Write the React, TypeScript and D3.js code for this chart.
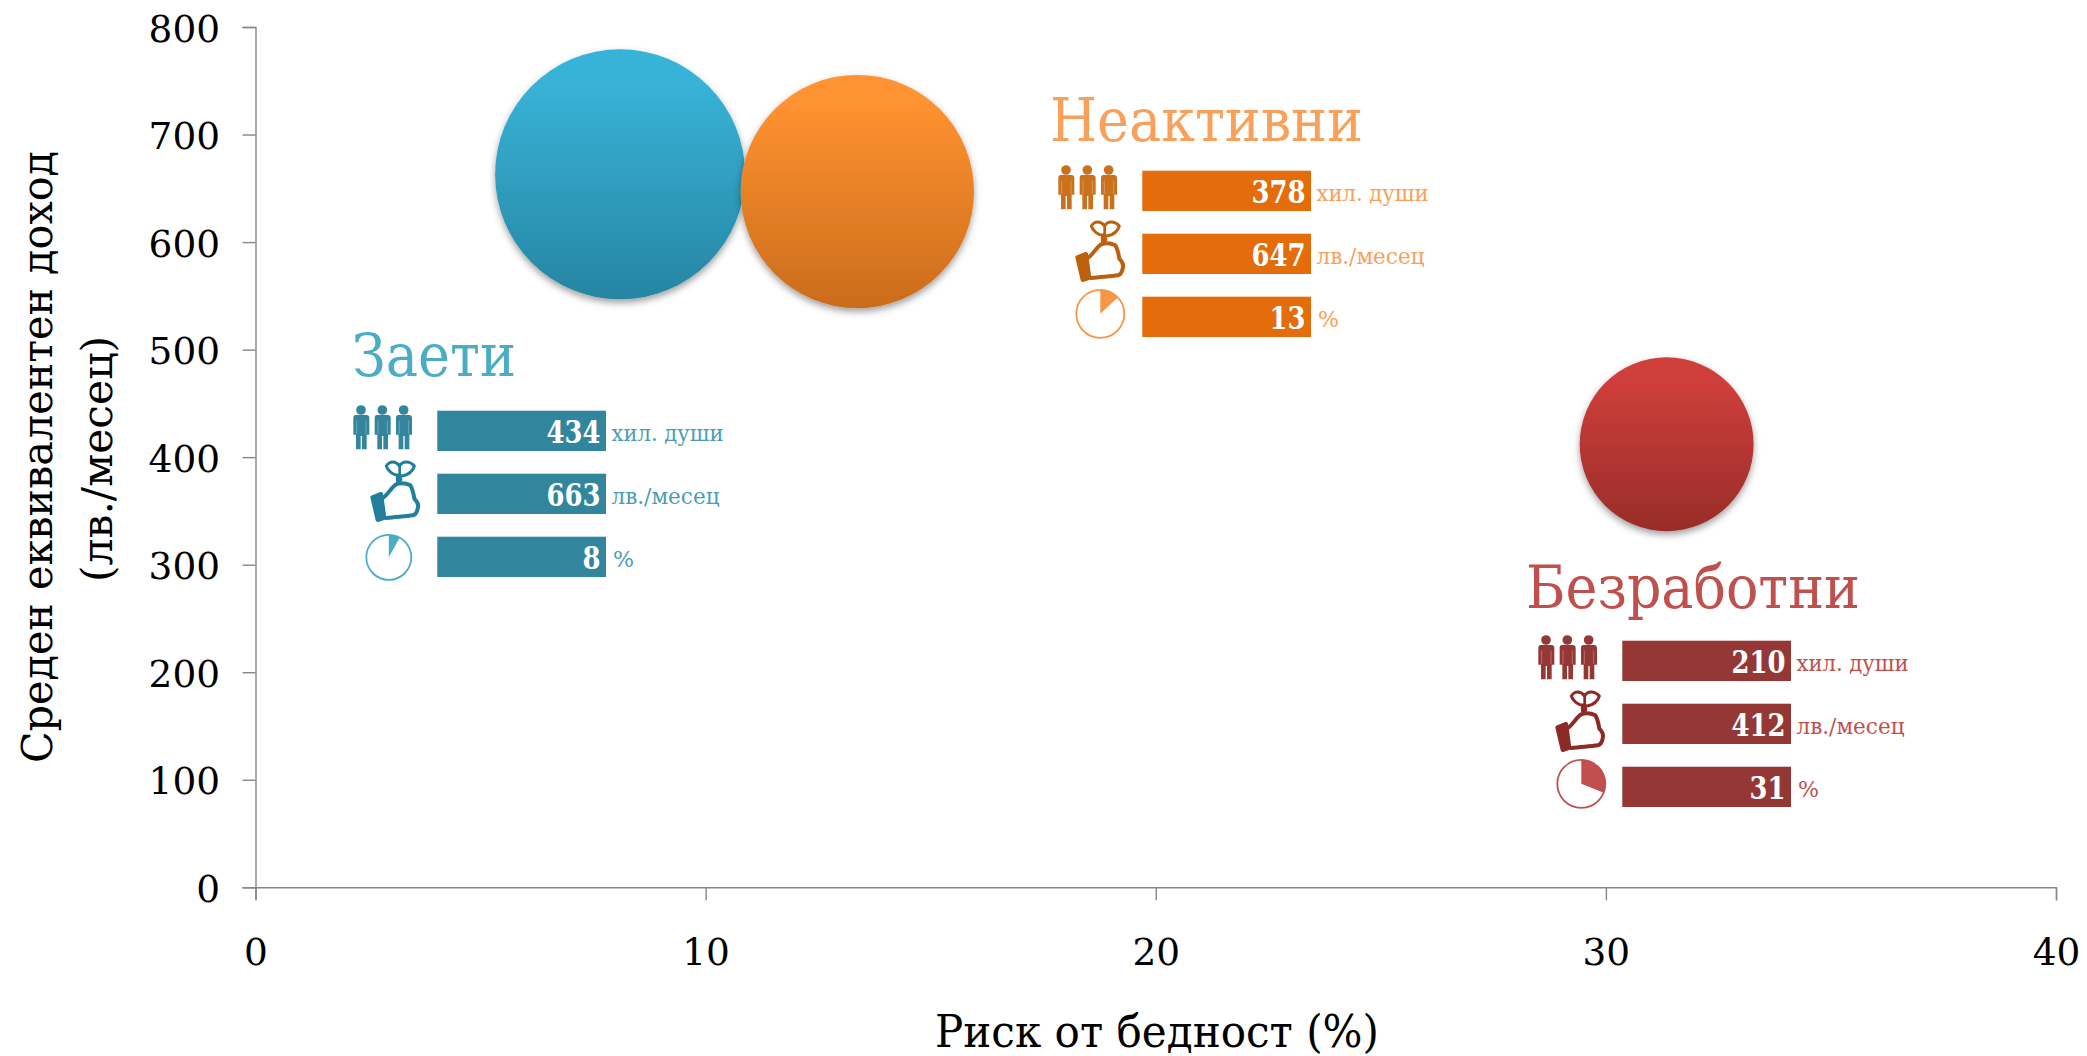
import React, { useEffect, useRef } from "react";
import * as d3 from "d3";

// --- data
const groups = ["Заети", "Неактивни", "Безработни"];
const povertyRisk = [8.1, 13.37, 31.35];
const income = [663, 647, 412];
const people = [434, 378, 210];
const riskLabels = [8, 13, 31];
const xTicks = [0, 10, 20, 30, 40];
const yTicks = [0, 100, 200, 300, 400, 500, 600, 700, 800];
const units = ["хил. души", "лв./месец", "%"];
const xTitle = "Риск от бедност (%)";
const yTitle = ["Среден еквивалентен доход", "(лв./месец)"];

// --- styling and layout, separate from the values
const W = 2087, H = 1056;
const FONT = "'DejaVu Serif Condensed', 'DejaVu Serif', serif";
const plot = { x0: 255.5, x1: 2056, y0: 887.3, y1: 27 };
const gradTop = ["#38B3D8", "#FF9230", "#D03F3B"];
const gradBot = ["#2685A2", "#CA6C1C", "#982C29"];
const titleColor = ["#4BACC6", "#F9A05A", "#C0504D"];
const unitColor = ["#4A9DB6", "#F9A05A", "#C0504D"];
const barColor = ["#31859C", "#E46C0A", "#953735"];
const peopleColor = ["#31859C", "#C9711F", "#953735"];
const handColor = ["#217F9A", "#BC6110", "#8C2A28"];
const pieColor = ["#4BACC6", "#F79646", "#C0504D"];
const panelX = [437.3, 1142.3, 1622.3];
const panelY = [410.7, 170.7, 640.7];
const titleX = [352, 1050, 1526];
const titleBaseline = [376, 140.7, 608];
const titleWidth = [164, 313, 334];
const pieOffset = [{ dx: -48.5, dy: 0.5, r: 22.5 }, { dx: -42, dy: -3, r: 24 }, { dx: -41, dy: -3, r: 24 }];
const BAR_W = 168.7, BAR_H = 40.3, ROW = 63;
const unitWidth = [112, 108, 21];
const TICK_DIGIT_W = 23.8;

const xScale = d3.scaleLinear().domain([0, 40]).range([plot.x0, plot.x1]);
const yScale = d3.scaleLinear().domain([0, 800]).range([plot.y0, plot.y1]);
const rScale = d3.scaleSqrt().domain([0, 434]).range([0, 125]);
const pieArc = d3.arc();

function People({ color }: { color: string }) {
  return (
    <g fill={color}>
      {[0, 64, 128].map((dx) => (
        <g key={dx} transform={`translate(${dx},0)`}>
          <circle cx={48} cy={30} r={14.5} />
          <path d="M32,45 H64 Q73,45 73,54 V104 H65 V148 H51 V108 H47 V148 H33 V104 H25 V54 Q25,45 32,45 Z" />
          <path d="M35,62 V102 M63,62 V102" stroke="#fff" strokeOpacity={0.35} strokeWidth={2.5} fill="none" />
        </g>
      ))}
    </g>
  );
}

function Hand({ color }: { color: string }) {
  return (
    <g fill="none" stroke={color} strokeWidth={12} strokeLinejoin="round" strokeLinecap="round">
      <path d="M82,292 L108,282 L122,352 L98,360 Z" fill={color} />
      <path d="M116,292 C128,284 138,264 152,254 C166,248 184,250 196,256 C204,270 206,284 208,296 C216,304 222,316 218,326 C216,336 212,344 204,346 C178,350 150,350 124,354" fill="#fff" />
      <path d="M160,250 C156,240 156,234 160,226" strokeWidth={10} />
      <path d="M160,226 C144,226 128,212 124,198 C134,182 152,182 164,198 C172,182 194,182 208,198 C204,212 190,224 172,228 Z" strokeWidth={9} />
      <path d="M164,198 L164,226" strokeWidth={8} />
      <circle cx={164} cy={238} r={6} fill={color} strokeWidth={4} />
    </g>
  );
}

export default function App() {
  const xRef = useRef<SVGGElement>(null);
  const yRef = useRef<SVGGElement>(null);

  useEffect(() => {
    const style = (sel: any) => {
      sel.selectAll("path").attr("stroke", "#868686").attr("stroke-width", 1.4);
      sel.selectAll("line").attr("stroke", "#868686").attr("stroke-width", 1.4);
      sel.selectAll("text")
        .attr("fill", "#000")
        .attr("font-family", FONT)
        .attr("font-size", 38)
        .attr("textLength", function (this: any) { return this.textContent.length * TICK_DIGIT_W; })
        .attr("lengthAdjust", "spacingAndGlyphs");
    };
    const gx = d3.select(xRef.current!);
    gx.call(d3.axisBottom(xScale).tickValues(xTicks).tickFormat(d3.format("d") as any).tickSize(13).tickPadding(37.8) as any);
    style(gx);
    const gy = d3.select(yRef.current!);
    gy.call(d3.axisLeft(yScale).tickValues(yTicks).tickFormat(d3.format("d") as any).tickSize(13).tickPadding(22.5) as any);
    style(gy);
    gy.selectAll("text").attr("dy", "0.37em");
  }, []);

  return (
    <svg width={W} height={H} viewBox={`0 0 ${W} ${H}`} style={{ position: "absolute", left: 0, top: 0, display: "block", background: "#fff" }} fontFamily={FONT}>
      <defs>
        {groups.map((_, i) => (
          <linearGradient key={i} id={`grad${i}`} x1="0" y1="0" x2="0" y2="1">
            <stop offset="0.12" stopColor={gradTop[i]} />
            <stop offset="1" stopColor={gradBot[i]} />
          </linearGradient>
        ))}
        <filter id="shadow" x="-20%" y="-20%" width="140%" height="140%">
          <feDropShadow dx="0" dy="3.5" stdDeviation="3.5" floodColor="#000" floodOpacity="0.38" />
        </filter>
        <filter id="soft"><feGaussianBlur stdDeviation="0.5" /></filter>
      </defs>

      <g ref={xRef} transform={`translate(0,${plot.y0})`} />
      <g ref={yRef} transform={`translate(${plot.x0},0)`} />

      <text x={935} y={1047} fontSize={44} textLength={444} lengthAdjust="spacingAndGlyphs">{xTitle}</text>
      <text transform="translate(52,763) rotate(-90)" fontSize={43} textLength={612} lengthAdjust="spacingAndGlyphs">{yTitle[0]}</text>
      <text transform="translate(112,582) rotate(-90)" fontSize={43} textLength={246} lengthAdjust="spacingAndGlyphs">{yTitle[1]}</text>

      {groups.map((_, i) => (
        <circle key={i} cx={xScale(povertyRisk[i])} cy={yScale(income[i])} r={rScale(people[i])} fill={`url(#grad${i})`} filter="url(#shadow)" />
      ))}

      {groups.map((name, i) => {
        const values = [people[i], income[i], riskLabels[i]];
        const bx = panelX[i], by = panelY[i];
        const p = pieOffset[i];
        const cy = by + 2 * ROW + BAR_H / 2 + p.dy;
        return (
          <g key={name}>
            <text x={titleX[i]} y={titleBaseline[i]} fill={titleColor[i]} fontSize={60} textLength={titleWidth[i]} lengthAdjust="spacingAndGlyphs">{name}</text>
            {values.map((v, r) => (
              <g key={r}>
                <rect x={bx} y={by + r * ROW} width={BAR_W} height={BAR_H} fill={barColor[i]} />
                <text x={bx + BAR_W - 5.5} y={by + r * ROW + 32.4} textAnchor="end" fill="#fff" fontWeight="bold" fontSize={31} textLength={String(v).length * 18} lengthAdjust="spacingAndGlyphs">{v}</text>
                <text x={bx + BAR_W + (r === 2 ? 7 : 5.5)} y={by + r * ROW + 30} fill={unitColor[i]} fontSize={23} textLength={unitWidth[r]} lengthAdjust="spacingAndGlyphs">{units[r]}</text>
              </g>
            ))}
            <g filter="url(#soft)">
              <g transform={`translate(${bx - 92.3},${by - 10.7})`}>
                <g transform="scale(0.3333)"><People color={peopleColor[i]} /></g>
              </g>
              <g transform={`translate(${bx - 92.3},${by + ROW - 73.7})`}>
                <g transform="scale(0.3333)"><Hand color={handColor[i]} /></g>
              </g>
              <circle cx={bx + p.dx} cy={cy} r={p.r} fill="#fff" stroke={pieColor[i]} strokeWidth={1.8} />
              <path
                transform={`translate(${bx + p.dx},${cy})`}
                fill={pieColor[i]}
                d={pieArc({ innerRadius: 0, outerRadius: p.r, startAngle: 0, endAngle: (riskLabels[i] / 100) * 2 * Math.PI } as any) as string}
              />
            </g>
          </g>
        );
      })}
    </svg>
  );
}
